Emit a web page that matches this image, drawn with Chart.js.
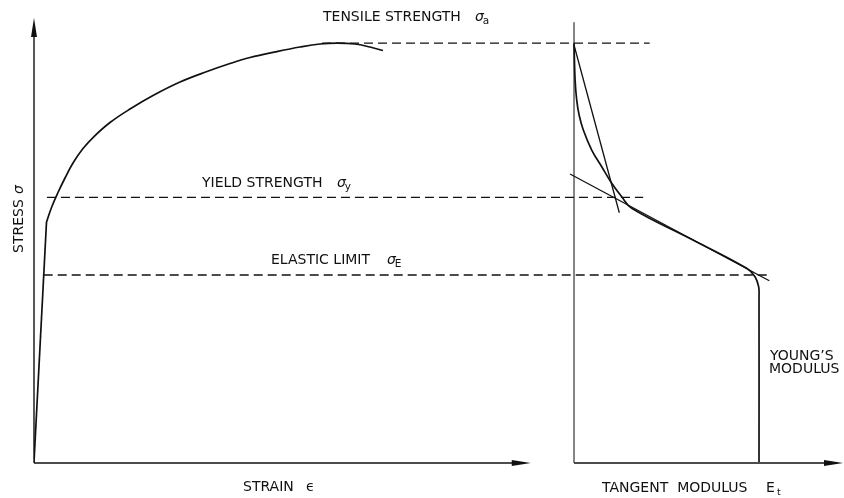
<!DOCTYPE html>
<html><head><meta charset="utf-8">
<script src="https://cdn.jsdelivr.net/npm/chart.js@4/dist/chart.umd.min.js"></script>
<style>html,body{margin:0;padding:0;background:#fff}canvas{display:block}</style>
</head><body>
<canvas id="c" width="844" height="498"></canvas>
<script>
// ---- Data (schematic units: stress in % of tensile strength, strain & tangent modulus in arbitrary units) ----
const elasticStrain = [0, 1.545];
const elasticStress = [0, 57.29];

const plasticStrain = [1.545, 2.188, 2.967, 3.832, 4.821, 6.057, 7.417, 9.394, 11.867, 14.71, 18.047, 21.384, 24.227, 26.70, 30.037, 32.88, 35.35, 37.45, 39.68, 41.53, 43.14];
const plasticStress = [57.29, 60.87, 64.34, 67.80, 71.38, 74.84, 77.70, 81.05, 84.27, 87.49, 90.71, 93.22, 95.13, 96.56, 97.99, 99.07, 99.79, 100, 99.79, 99.07, 98.23];

const tangentModulus = [0, 0.59, 1.46, 2.76, 5.03, 9.57, 14.97, 20.38, 25.78, 31.19, 62.7, 93.35, 97.84, 99.8, 100, 100];
const tangentStress  = [100, 91.19, 86.39, 82.84, 79.26, 74.48, 70.49, 66.53, 63.33, 60.56, 53.35, 46.24, 44.24, 41.85, 39.46, 0];

const tangent1Modulus = [0, 24.49];
const tangent1Stress  = [99.55, 59.51];
const tangent2Modulus = [-2.16, 105.57];
const tangent2Stress  = [68.75, 43.28];

const levelNames  = ['TENSILE STRENGTH', 'YIELD STRENGTH', 'ELASTIC LIMIT'];
const levelSubs   = ['a', 'y', 'E'];
const levelStress = [100, 63.2, 44.64];
const levelFrom   = [35.6, 1.6, 1.2];    // strain units
const levelTo     = [76.1, 75.3, 91.0];  // strain units

const strainAxisEnd = 61.4;
const stressAxisTop = 106;
const modulusAxisTopStress = 105;

const xLabel = 'STRAIN';
const yLabel = 'STRESS';
const x2Label = 'TANGENT  MODULUS';
const youngLabel = ['YOUNG\u2019S', 'MODULUS'];

// ---- helpers ----
const pts = (xs, ys) => xs.map((v, i) => ({x: v, y: ys[i]}));
const INK = '#111';
const FONT = '"DejaVu Sans", sans-serif';

const solid = (data, axis, tension) => ({
  data, xAxisID: axis, yAxisID: 'y', borderColor: INK, borderWidth: 1.7,
  pointRadius: 0, tension: tension, fill: false
});
const dashed = (data) => ({
  data, xAxisID: 'x', yAxisID: 'y', borderColor: INK, borderWidth: 1.3,
  borderDash: [9, 5], pointRadius: 0, tension: 0, fill: false
});

const datasets = [
  solid(pts(elasticStrain, elasticStress), 'x', 0),
  solid(pts(plasticStrain, plasticStress), 'x', 0.4),
  solid(pts(tangentModulus, tangentStress), 'x2', 0.4),
  Object.assign(solid(pts(tangent1Modulus, tangent1Stress), 'x2', 0), {borderWidth: 1.3}),
  Object.assign(solid(pts(tangent2Modulus, tangent2Stress), 'x2', 0), {borderWidth: 1.3}),
];
levelStress.forEach((s, i) => datasets.push(dashed(pts([levelFrom[i], levelTo[i]], [s, s]))));

function arrow(ctx, tx, ty, dir, len, half) {
  ctx.beginPath();
  if (dir === 'up') { ctx.moveTo(tx, ty); ctx.lineTo(tx - half, ty + len); ctx.lineTo(tx + half, ty + len); }
  else { ctx.moveTo(tx, ty); ctx.lineTo(tx - len, ty - half); ctx.lineTo(tx - len, ty + half); }
  ctx.closePath(); ctx.fill();
}

function txt(ctx, s, x, y, size, italic) {
  ctx.font = (italic ? 'italic ' : '') + size + 'px ' + FONT;
  ctx.fillText(s, x, y);
  return ctx.measureText(s).width;
}

const schematic = {
  id: 'schematic',
  beforeDatasetsDraw(chart) {
    const {ctx, scales: {x, x2, y}} = chart;
    ctx.save();
    ctx.strokeStyle = INK; ctx.fillStyle = INK; ctx.lineWidth = 1.4;
    const lx = x.getPixelForValue(0), by = y.getPixelForValue(0) + 1;
    const topY = y.getPixelForValue(stressAxisTop);
    const endX = x.getPixelForValue(strainAxisEnd);
    // left panel axes
    ctx.beginPath(); ctx.moveTo(lx, by); ctx.lineTo(lx, topY + 10); ctx.stroke();
    arrow(ctx, lx, topY, 'up', 19, 3);
    ctx.beginPath(); ctx.moveTo(lx, by); ctx.lineTo(endX - 10, by); ctx.stroke();
    arrow(ctx, endX, by, 'right', 19, 3);
    // right panel axes
    const rx = x2.getPixelForValue(0);
    const rEnd = x2.right;
    ctx.beginPath(); ctx.moveTo(rx, by); ctx.lineTo(rEnd - 10, by); ctx.stroke();
    arrow(ctx, rEnd, by, 'right', 19, 3);
    ctx.strokeStyle = '#444'; ctx.lineWidth = 1.3;
    ctx.beginPath(); ctx.moveTo(rx, by); ctx.lineTo(rx, y.getPixelForValue(modulusAxisTopStress)); ctx.stroke();
    ctx.restore();
  },
  afterDraw(chart) {
    const {ctx} = chart;
    ctx.save();
    ctx.fillStyle = INK; ctx.textBaseline = 'alphabetic';
    // level labels
    const lab = [[323, 21, 475], [202, 187, 337], [271, 264, 387]];
    lab.forEach((p, i) => {
      txt(ctx, levelNames[i], p[0], p[1], 14, false);
      const w = txt(ctx, '\u03C3', p[2], p[1], 14, true);
      txt(ctx, levelSubs[i], p[2] + w - 1, p[1] + 3, 10.5, false);
    });
    // strain label
    txt(ctx, xLabel, 243, 491, 14, false);
    txt(ctx, '\u03F5', 306, 491, 14, false);
    // tangent modulus label
    txt(ctx, x2Label, 602, 492, 14, false);
    txt(ctx, 'E', 766, 492, 14, false);
    txt(ctx, 't', 777, 495, 9.5, false);
    // young's modulus
    txt(ctx, youngLabel[0], 770, 360, 14, false);
    txt(ctx, youngLabel[1], 769, 373, 14, false);
    // stress label (rotated)
    ctx.save();
    ctx.translate(23, 253); ctx.rotate(-Math.PI / 2);
    txt(ctx, yLabel, 0, 0, 14, false);
    txt(ctx, '\u03C3', 59, 0, 14, true);
    ctx.restore();
    ctx.restore();
  }
};

new Chart(document.getElementById('c'), {
  type: 'line',
  data: {datasets},
  options: {
    responsive: false, animation: false, devicePixelRatio: 1,
    layout: {padding: {left: 34, right: 1, top: 18, bottom: 36}},
    plugins: {legend: {display: false}, tooltip: {enabled: false}},
    scales: {
      x:  {type: 'linear', min: 0, max: 100, display: false},
      x2: {type: 'linear', min: -291.9, max: 145.4, display: false},
      y:  {type: 'linear', min: 0, max: stressAxisTop, display: false}
    }
  },
  plugins: [schematic]
});
</script></body></html>
